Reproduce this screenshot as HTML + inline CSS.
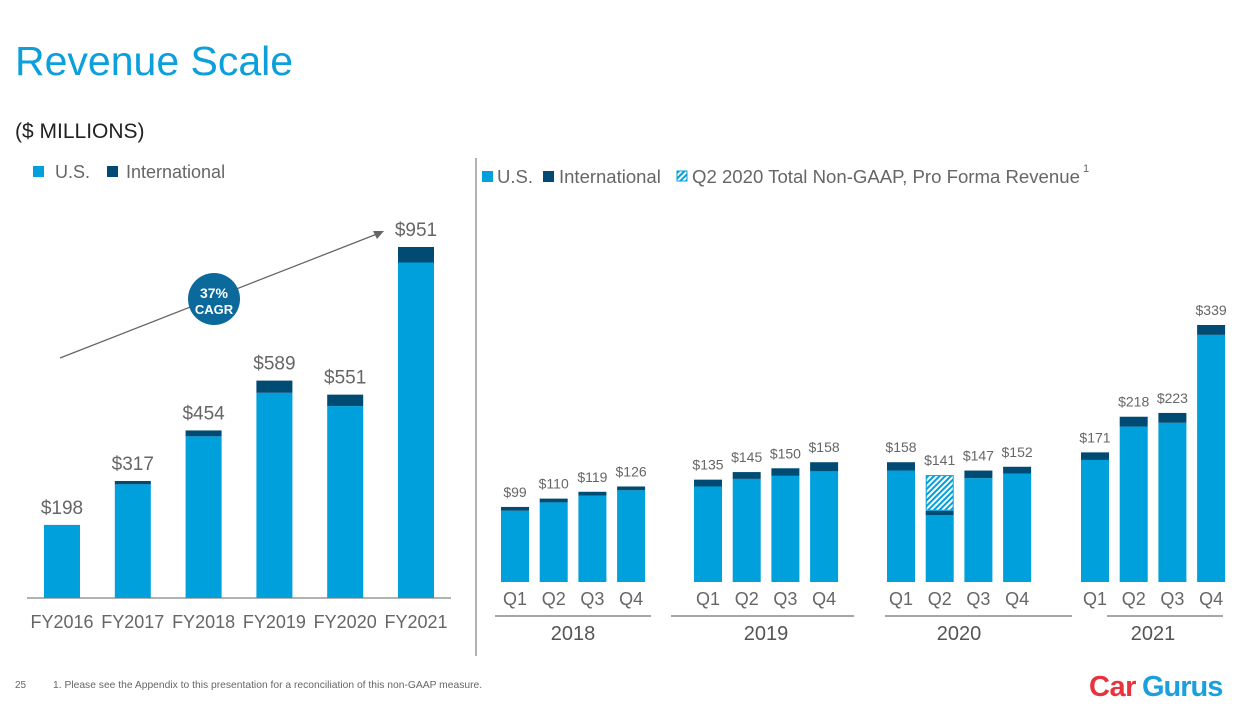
<!DOCTYPE html>
<html><head><meta charset="utf-8">
<style>
html,body{margin:0;padding:0;background:#fff;}
body{width:1245px;height:707px;overflow:hidden;position:relative;font-family:"Liberation Sans",sans-serif;}
svg text{font-family:"Liberation Sans",sans-serif;}
</style></head>
<body>
<svg id="s" width="1245" height="707" viewBox="0 0 1245 707" xmlns="http://www.w3.org/2000/svg">
<defs>
<pattern id="hatch" patternUnits="userSpaceOnUse" width="4" height="4" patternTransform="rotate(45)">
<rect width="4" height="4" fill="#fff"/><rect width="2" height="4" fill="#00a0dc"/>
</pattern>
</defs>
<text x="15" y="75" font-size="41" fill="#0ba0dc">Revenue Scale</text>
<text x="15" y="138" font-size="21" fill="#222">($ MILLIONS)</text>
<g>
<rect x="33" y="166" width="11" height="11" fill="#00a0dc"/>
<text x="55" y="178" font-size="18" fill="#666">U.S.</text>
<rect x="107" y="166" width="11" height="11" fill="#004b73"/>
<text x="126" y="178" font-size="18" fill="#666">International</text>
</g>
<line x1="476" y1="158" x2="476" y2="656" stroke="#999" stroke-width="1.5"/>
<g>
<rect x="482" y="171" width="11" height="11" fill="#00a0dc"/>
<text x="497" y="183" font-size="18.5" fill="#666">U.S.</text>
<rect x="543" y="171" width="11" height="11" fill="#004b73"/>
<text x="559" y="183" font-size="18.5" fill="#666">International</text>
<rect x="677" y="171" width="10" height="10" fill="url(#hatch)" stroke="#00a0dc" stroke-width="1"/>
<text x="692" y="183" font-size="18.6" fill="#666">Q2 2020 Total Non-GAAP, Pro Forma Revenue</text>
<text x="1083" y="172" font-size="11" fill="#666">1</text>
</g>
<line x1="27" y1="598" x2="451" y2="598" stroke="#999" stroke-width="1.5"/>
<g id="left"></g>
<g id="right"></g>
<line x1="60" y1="358" x2="377" y2="234" stroke="#666" stroke-width="1.3"/>
<polygon points="384,231 373,231 377,239" fill="#666"/>
<circle cx="214" cy="299" r="26" fill="#0b6a9b"/>
<text x="214" y="298" font-size="14" font-weight="bold" fill="#fff" text-anchor="middle">37%</text>
<text x="214" y="314" font-size="13" font-weight="bold" fill="#fff" text-anchor="middle">CAGR</text>
<text x="15" y="688" font-size="10" fill="#666">25</text>
<text x="53" y="688" font-size="10.3" fill="#666">1. Please see the Appendix to this presentation for a reconciliation of this non-GAAP measure.</text>
<g>
<text x="1089" y="696" font-size="29" font-weight="bold" fill="#e8333c" letter-spacing="-0.5">Car</text>
<text x="1142" y="696" font-size="29" font-weight="bold" fill="#1ba0de" letter-spacing="-1">Gurus</text>
</g>
</svg>
<script>
// Annual data
const years = ["FY2016","FY2017","FY2018","FY2019","FY2020","FY2021"];
const yearTotals = [198,317,454,589,551,951];
const yearIntl = [1,9,16,33,31,42];
const yearLabels = ["$198","$317","$454","$589","$551","$951"];
// Quarterly data
const groups = ["2018","2019","2020","2021"];
const quarters = ["Q1","Q2","Q3","Q4"];
const qTotals = [99,110,119,126, 135,145,150,158, 158,141,147,152, 171,218,223,339];
const qIntl = [5,5,5,5, 9,9,10,12, 11,6,10,9, 10,13,13,13];
const qProforma = [0,0,0,0, 0,0,0,0, 0,47,0,0, 0,0,0,0];
const qLabels = ["$99","$110","$119","$126","$135","$145","$150","$158","$158","$141","$147","$152","$171","$218","$223","$339"];

const NS="http://www.w3.org/2000/svg";
function mk(parent,tag,attrs){const e=document.createElementNS(NS,tag);for(const k in attrs)e.setAttribute(k,attrs[k]);parent.appendChild(e);return e;}

const L={base:598,k:351/951,x0:44,step:70.8,w:36};
const ly=v=>L.base-v*L.k, lx=i=>L.x0+i*L.step;
const left=document.getElementById('left');
years.forEach((y,i)=>{
  const t=yearTotals[i], it=yearIntl[i], us=t-it;
  const r1=mk(left,'rect',{x:lx(i),y:ly(us),width:L.w,height:us*L.k,fill:'#00a0dc'});
  
  
  const r2=mk(left,'rect',{x:lx(i),y:ly(t),width:L.w,height:it*L.k,fill:'#004b73'});
  
  
  const tl=mk(left,'text',{x:lx(i)+L.w/2,y:ly(t)-11,'font-size':19,fill:'#666','text-anchor':'middle'});
  tl.textContent=yearLabels[i];
  
  
  const xl=mk(left,'text',{x:lx(i)+L.w/2,y:628,'font-size':18,fill:'#666','text-anchor':'middle'});
  xl.textContent=y;
  
  
});

const R={base:582,k:257/339,w:28,step:38.7,gx:[501,694,887,1081]};
const ry=v=>R.base-v*R.k, rx=i=>R.gx[Math.floor(i/4)]+(i%4)*R.step;
const groupLines=[[495,651],[671,854],[885,1072],[1107,1223]];
const right=document.getElementById('right');
qTotals.forEach((t,i)=>{
  const g=groups[Math.floor(i/4)], q=quarters[i%4];
  const pf=qProforma[i], it=qIntl[i], us=t-it-pf;
  const r1=mk(right,'rect',{x:rx(i),y:ry(us),width:R.w,height:us*R.k,fill:'#00a0dc'});
  
  
  const r2=mk(right,'rect',{x:rx(i),y:ry(us+it),width:R.w,height:it*R.k,fill:'#004b73'});
  
  
  if(pf>0){
    const r3=mk(right,'rect',{x:rx(i)+0.5,y:ry(t)+0.5,width:R.w-1,height:pf*R.k-1,fill:'url(#hatch)',stroke:'#00a0dc','stroke-width':1});
    
    
  }
  const tl=mk(right,'text',{x:rx(i)+R.w/2,y:ry(t)-10,'font-size':14,fill:'#666','text-anchor':'middle'});
  tl.textContent=qLabels[i];
  
  
  const ql=mk(right,'text',{x:rx(i)+R.w/2,y:605,'font-size':18,fill:'#666','text-anchor':'middle'});
  ql.textContent=q;
  
  
});
groups.forEach((g,j)=>{
  const [a,b]=groupLines[j];
  const ln=mk(right,'line',{x1:a,y1:616,x2:b,y2:616,stroke:'#888','stroke-width':1.5});
  
  
  const gl=mk(right,'text',{x:(rx(j*4)+rx(j*4+3)+R.w)/2,y:640,'font-size':20,fill:'#555','text-anchor':'middle'});
  gl.textContent=g;
  
  
});
</script>
</body></html>
